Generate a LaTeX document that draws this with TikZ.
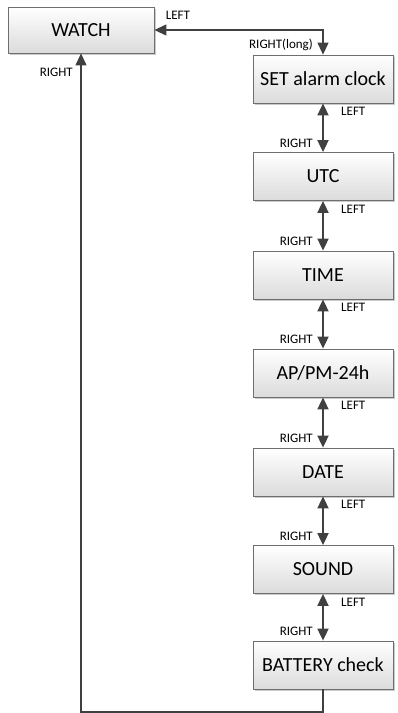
\documentclass[tikz,border=0pt]{standalone}
\usepackage{fontspec}
\setmainfont{Carlito}
\usetikzlibrary{arrows.meta,shadows,calc}
\definecolor{boxline}{HTML}{6E6E6E}
\definecolor{arr}{HTML}{404040}
\tikzset{
  statebox/.style={draw=boxline, line width=0.8pt, top color=white, bottom color=black!14,
    minimum width=140pt, minimum height=48pt, inner sep=0pt, font=\fontsize{20}{22}\selectfont,
    drop shadow={shadow xshift=1.5pt, shadow yshift=-1.5pt, fill=black!35, opacity=0.6}},
  dbl/.style={arr, line width=1.8pt, {Triangle[length=12pt,width=11pt]}-{Triangle[length=12pt,width=11pt]}},
  loopline/.style={arr, line width=1.2pt},
  lbl/.style={font=\fontsize{13}{14}\selectfont, inner sep=0pt, text=black}
}
\begin{document}
\begin{tikzpicture}[x=1pt,y=-1pt]
\useasboundingbox (0,0) rectangle (398,713);
\node[statebox, minimum width=146pt, minimum height=46pt] (watch) at (81,30) {WATCH};
\node[statebox] (s1) at (323,79) {SET alarm clock};
\node[statebox] (s2) at (323,176.5) {UTC};
\node[statebox] (s3) at (323,275) {TIME};
\node[statebox] (s4) at (323,373) {AP/PM-24h};
\node[statebox] (s5) at (323,472) {DATE};
\node[statebox] (s6) at (323,569.5) {SOUND};
\node[statebox] (s7) at (323,665) {BATTERY check};
\coordinate (bl) at (81,712);
% watch <-> set
\draw[arr, line width=1.2pt, {Triangle[length=12pt,width=11pt]}-{Triangle[length=12pt,width=11pt]}]
  (watch.east) -| (s1.north);
\node[lbl] at (178,15) {LEFT};
\node[lbl] at (281,45) {RIGHT(long)};
% chain
\foreach \a/\b in {s1/s2,s2/s3,s3/s4,s4/s5,s5/s6,s6/s7}{
  \draw[dbl] (\a.south) -- (\b.north);
  \node[lbl, anchor=west] at ($(\a.south)+(18,8)$) {LEFT};
  \node[lbl, anchor=east] at ($(\b.north)+(-10,-9)$) {RIGHT};
}
% loop back
\draw[loopline, -{Triangle[length=12pt,width=11pt]}] (s7.south) |- (bl) -- (watch.south);
\node[lbl, anchor=east] at (73,72) {RIGHT};
\end{tikzpicture}
\end{document}
